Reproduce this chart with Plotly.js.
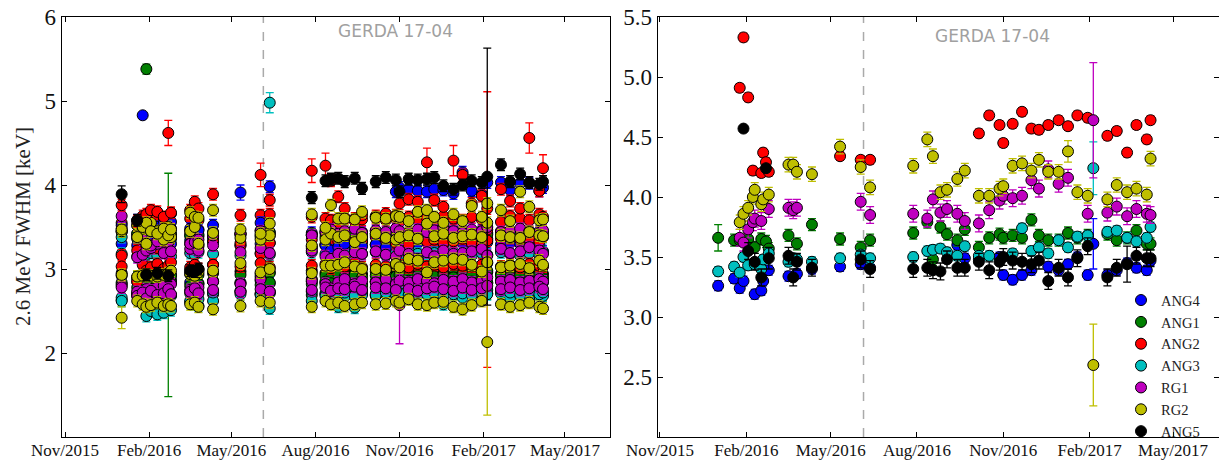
<!DOCTYPE html>
<html><head><meta charset="utf-8">
<script src="https://cdn.plot.ly/plotly-3.0.1.min.js"></script>
<style>html,body{margin:0;padding:0;background:#fff}#chart{width:1219px;height:461px}</style>
</head><body><div id="chart"></div>
<script>
// ---------- shared axis ticks ----------
const XTICK_DATES = ['2015-11-01','2016-02-01','2016-05-01','2016-08-01','2016-11-01','2017-02-01','2017-05-01'];
const XTICK_LABELS = ['Nov/2015','Feb/2016','May/2016','Aug/2016','Nov/2016','Feb/2017','May/2017'];
const LEFT_YTICKS = [2,3,4,5,6];
const RIGHT_YTICKS = [2.5,3.0,3.5,4.0,4.5,5.0,5.5];
const CUT_DATE = '2016-06-05';

// ---------- left panel: all detectors (calibration dates) ----------
const DATES = ['2016-01-02','2016-01-19','2016-01-25','2016-01-29','2016-02-03','2016-02-10','2016-02-17','2016-02-22','2016-02-25',
 '2016-03-17','2016-03-22','2016-03-26','2016-04-11','2016-05-11','2016-06-02','2016-06-12','2016-07-28','2016-08-12','2016-08-18',
 '2016-08-26','2016-09-02','2016-09-13','2016-09-21','2016-10-06','2016-10-17','2016-10-28','2016-11-01','2016-11-11','2016-11-21',
 '2016-12-01','2016-12-09','2016-12-19','2016-12-30','2017-01-09','2017-01-19','2017-01-30','2017-02-05','2017-02-20','2017-03-02',
 '2017-03-13','2017-03-23','2017-04-03','2017-04-07'];

const B1 = [3.52,3.58,4.83,3.55,3.38,3.50,3.54,3.57,3.56,3.48, 3.50,3.46,3.52,3.91,3.55,3.98,3.25,3.28,3.22,3.26, 3.30,3.24,3.27,3.29,3.25,3.92,3.97,3.95,3.93,3.92, 3.95,3.94,3.90,4.15,3.93,3.89,4.03,4.03,3.94,4.02, 4.02,3.93,3.97];
const G1 = [2.92,2.90,2.94,5.38,2.91,2.93,2.89,2.95,2.92,2.94, 2.91,2.93,2.85,2.93,2.91,2.95,2.88,2.92,2.90,2.94, 2.91,2.93,2.90,2.92,2.94,2.91,2.93,2.90,2.92,2.94, 2.91,2.93,2.90,2.94,2.92,2.95,2.98,2.92,2.90,2.93, 2.91,2.94,2.90];
const R1 = [3.76,3.57,3.63,3.65,3.70,3.68,3.62,4.62,3.67,3.70, 3.80,3.72,3.89,3.64,4.12,3.82,4.17,4.23,4.05,3.86, 3.72,3.60,3.64,3.62,3.66,3.64,3.78,3.83,3.80,4.27, 3.82,3.74,4.29,4.12,3.78,3.87,3.72,3.95,3.81,3.72, 4.56,3.93,4.20];
const C1 = [2.66,2.68,2.60,2.44,2.50,2.46,2.48,2.65,2.51,2.60, 2.58,2.56,2.62,2.70,2.71,2.53,2.62,2.70,2.66,2.55, 2.67,2.54,2.69,2.70,2.76,2.70,2.66,2.74,2.69,2.75, 2.64,2.58,2.70,2.66,2.70,2.82,2.75,2.71,2.66,2.68, 2.63,2.76,2.68];
const M1 = [3.48,3.14,3.17,3.22,3.25,3.30,3.19,3.32,3.21,3.24, 3.28,3.22,3.28,3.20,3.25,3.19,3.22,3.15,3.12,3.18, 3.16,3.20,3.18,3.21,3.17,3.15,3.22,3.18,3.12,3.20, 3.15,3.22,3.18,3.19,3.21,3.24,3.16,3.24,3.19,3.21, 3.26,3.22,3.18];
const Y1 = [3.47,3.38,3.50,3.55,3.45,3.42,3.48,3.40,3.47,3.67, 3.62,3.61,3.70,3.47,3.42,3.54,3.65,3.49,3.76,3.60, 3.60,3.59,3.68,3.61,3.60,3.63,3.62,3.57,3.68,3.70, 3.62,3.55,3.65,3.57,3.75,3.62,3.78,3.70,3.57,3.92, 3.74,3.58,3.59];
const K1 = [3.89,3.58,null,2.93,null,2.95,null,2.92,null,2.98, 2.97,3.00,null,null,null,null,3.85,4.05,4.07,4.08, 4.04,4.08,3.96,4.04,4.09,4.06,3.92,4.07,4.06,4.07, 4.09,3.99,3.95,4.00,4.05,4.03,4.10,4.24,4.04,4.13, 4.03,4.01,4.04];
const B2 = [3.30,3.28,3.33,3.25,3.31,3.29,3.27,3.32,3.30,3.34, 3.31,3.29,3.33,3.28,3.30,3.31,3.27,3.29,3.32,3.30, 3.28,3.31,3.33,3.29,3.30,3.32,3.28,3.26,3.31,3.18, 3.30,3.29,3.33,3.31,3.28,3.30,3.32,3.29,3.31,3.30, 3.27,3.29,3.21];
const G2 = [2.84,2.78,2.80,2.82,2.76,2.79,2.82,2.81,2.84,2.80, 2.78,2.82,2.86,2.83,2.81,2.84,2.82,2.85,2.83,2.80, 2.84,2.82,2.80,2.85,2.83,2.81,2.84,2.86,2.83,2.85, 2.82,2.84,2.86,2.83,2.85,2.82,2.84,2.86,2.83,2.85, 2.87,2.84,2.88];
const R2 = [3.55,3.52,3.60,3.58,3.55,3.62,3.57,3.53,3.66,3.60, 3.62,3.58,3.05,3.31,3.64,3.65,3.62,3.60,3.58,3.55, 3.61,3.57,3.59,3.63,3.58,3.60,3.56,3.62,3.59,3.61, 3.57,3.63,3.60,3.58,3.62,3.59,3.47,3.56,3.63,3.60, 3.58,3.65,3.62];
const C2 = [2.62,2.72,2.66,2.58,2.70,2.74,2.62,2.70,2.68,2.62, 2.73,2.64,2.72,2.74,2.69,2.71,2.73,2.68,2.74,2.70, 2.72,2.68,2.74,2.69,2.72,2.74,2.71,2.69,2.73,2.70, 2.72,2.68,2.74,2.71,2.69,2.72,2.70,2.74,2.72,2.69, 2.73,2.70,2.72];
const M2 = [2.80,2.73,2.70,2.76,2.70,2.78,2.80,2.68,2.82,2.75, 2.72,2.78,2.85,2.82,2.88,2.73,2.86,2.82,2.77,2.84, 2.88,2.82,2.86,2.84,2.88,2.82,2.86,2.84,2.88,2.86, 2.83,2.87,2.85,2.88,2.84,2.86,2.90,2.85,2.87,2.84, 2.86,2.88,2.85];
const Y2 = [2.93,2.91,2.92,2.93,2.92,2.91,2.93,2.95,2.98,2.94, 2.92,2.96,2.98,3.07,2.96,3.00,2.95,3.04,3.04,3.05, 3.08,3.03,3.00,3.00,2.99,3.06,3.02,3.12,3.10,2.96, 3.08,3.10,3.12,3.11,3.05,2.97,3.08,3.02,3.04,3.06, 3.01,3.10,3.05];
const K2 = [2.95,2.90,2.93,2.97,2.94,2.96,2.98,2.95,2.93,2.98, 2.96,2.99,2.95,2.97,2.94,2.96,2.98,2.95,2.97,2.93, 2.96,2.98,2.94,2.97,2.95,2.99,2.96,2.94,2.97,2.95, 2.98,2.96,2.93,2.97,2.95,2.98,2.96,2.94,2.97,2.95, 2.98,2.96,2.94];
const B3 = [3.44,3.42,3.47,3.45,3.40,3.43,3.46,3.44,3.41,3.45, 3.43,3.47,3.44,3.42,3.46,3.44,3.43,3.45,3.47,3.44, 3.42,3.46,3.44,3.45,3.43,3.47,3.44,3.42,3.45,3.46, 3.44,3.43,3.47,3.45,3.44,3.46,3.43,3.45,3.44,3.46, 3.43,3.45,3.44];
const G3 = [2.63,2.70,2.66,2.72,2.68,2.60,2.70,2.74,2.69,2.71, 2.68,2.72,2.70,2.73,2.70,2.72,2.69,2.71,2.68,2.70, 2.72,2.69,2.71,2.68,2.70,2.72,2.69,2.71,2.73,2.70, 2.72,2.69,2.71,2.70,2.72,2.69,2.71,2.73,2.70,2.72, 2.69,2.71,2.70];
const R3 = [3.16,3.22,3.35,3.28,3.31,3.25,3.36,3.30,3.38,3.30, 3.33,3.27,3.32,3.28,3.18,3.31,3.35,3.29,3.31,3.33, 3.36,3.30,3.32,3.38,3.34,3.31,3.36,3.29,3.37,3.33, 3.35,3.31,3.33,3.36,3.31,3.29,3.34,3.36,3.37,3.35, 3.36,3.33,3.40];
const C3 = [3.18,3.15,3.20,3.17,3.19,3.16,3.21,3.18,3.15,3.19, 3.17,3.20,3.18,3.16,3.19,3.17,3.20,3.18,3.16,3.19, 3.21,3.17,3.18,3.20,3.16,3.19,3.17,3.21,3.18,3.16, 3.19,3.17,3.20,3.18,3.16,3.19,3.17,3.20,3.18,3.16, 3.19,3.17,3.20];
const M3 = [3.63,3.38,3.35,3.30,3.28,3.33,3.38,3.45,3.48,3.30, 3.32,3.35,3.40,3.42,3.45,3.40,3.40,3.44,3.47,3.42, 3.45,3.48,3.43,3.46,3.44,3.48,3.45,3.43,3.47,3.44, 3.46,3.49,3.45,3.43,3.47,3.45,3.50,3.44,3.46,3.48, 3.45,3.43,3.46];
const Y3 = [2.42,2.62,2.58,2.55,2.57,2.60,2.56,2.58,2.56,2.58, 2.60,2.55,2.52,2.56,2.62,2.60,2.55,2.62,2.58,2.60, 2.56,2.58,2.60,2.58,2.59,2.62,2.60,2.64,2.58,2.57, 2.60,2.61,2.55,2.52,2.57,2.62,2.13,2.58,2.55,2.57, 2.60,2.55,2.53];
const B4 = [2.82,2.85,2.83,2.86,2.84,2.82,2.85,2.83,2.87,2.84, 2.86,2.83,2.85,2.84,2.86,2.83,2.85,2.84,2.86,2.83, 2.85,2.84,2.82,2.85,2.83,2.86,2.84,2.85,2.83,2.86, 2.84,2.85,2.83,2.86,2.84,2.85,2.83,2.86,2.84,2.85, 2.83,2.86,2.84];
const G4 = [3.45,3.42,3.40,3.44,3.38,3.41,3.43,3.39,3.42,3.40, 3.44,3.41,3.39,3.42,3.40,3.43,3.41,3.38,3.42,3.40, 3.43,3.41,3.39,3.42,3.40,3.44,3.41,3.39,3.42,3.40, 3.43,3.41,3.39,3.42,3.40,3.43,3.41,3.39,3.42,3.40, 3.43,3.41,3.39];
const R4 = [3.03,2.85,3.05,2.98,3.02,3.06,3.00,3.04,3.08,3.02, 3.05,3.00,3.05,3.03,3.07,3.02,3.04,3.06,3.01,3.05, 3.03,3.07,3.02,3.05,3.03,3.06,3.04,3.02,3.06,3.03, 3.05,3.02,3.06,3.04,3.03,3.05,3.07,3.03,3.05,3.02, 3.06,3.04,3.03];
const C4 = [3.38,3.36,3.40,3.42,3.39,3.37,3.41,3.38,3.36,3.40, 3.42,3.39,3.37,3.41,3.38,4.98,3.40,3.42,3.39,3.37, 3.41,3.38,3.36,3.40,3.42,3.39,3.37,3.41,3.38,3.36, 3.40,3.42,3.39,3.37,3.41,3.38,3.36,3.40,3.42,3.39, 3.37,3.41,3.38];
const M4 = [2.78,2.68,2.72,2.65,2.74,2.69,2.71,2.76,2.70,2.73, 2.77,2.71,2.75,2.73,2.76,2.73,2.75,2.78,2.74,2.77, 2.76,2.79,2.75,2.78,2.77,2.75,2.57,2.76,2.74,2.77, 2.79,2.76,2.74,2.78,2.75,2.77,2.80,2.76,2.78,2.75, 2.77,2.79,2.76];
const Y4 = [3.45,3.52,3.48,3.30,3.55,3.45,3.35,3.50,3.38,3.45, 3.50,3.30,3.43,3.37,3.35,3.40,3.28,3.35,3.42,3.38, 3.40,3.32,3.38,3.42,3.37,3.35,3.38,3.40,3.36,3.54, 3.39,3.42,3.37,3.39,3.41,3.38,3.55,3.40,3.38,3.37, 3.44,3.40,3.39];

// drawing order (first = bottom)
const LEFT_ORDER = [['K2',K2],['B2',B2],['B3',B3],['B4',B4],['C3',C3],['C4',C4],['G4',G4],
                    ['G1',G1],['G2',G2],['G3',G3],['C1',C1],['C2',C2],['R3',R3],['R4',R4],['M2',M2],['M4',M4],
                    ['R2',R2],['B1',B1],['M1',M1],['M3',M3],['Y2',Y2],['Y3',Y3],['Y4',Y4],['R1',R1],['Y1',Y1],['K1',K1]];
const LEFT_ERR_TYPICAL = 0.07;
const LEFT_ERR_SPECIAL = [['G2',7,1.33],['R1',7,0.15],['R1',14,0.14],['R1',16,0.14],['R1',17,0.15],['R1',29,0.17],
  ['R1',32,0.18],['R1',40,0.18],['R1',42,0.16],['C4',15,0.12],['M4',26,0.46],['K1',36,1.53],['R2',36,1.64],
  ['Y3',36,0.87],['Y3',0,0.13],['K1',0,0.10],['B1',13,0.09],['B1',2,0.03],['G1',3,0.06]];

// ---------- right panel: selected detectors ----------
const ANG4_DATES = ['2016-01-02','2016-01-19','2016-01-25','2016-01-29','2016-02-10','2016-02-17','2016-02-19','2016-02-25','2016-03-17','2016-03-26','2016-04-11','2016-05-11','2016-06-02','2016-06-12','2016-09-13','2016-09-21','2016-10-06','2016-10-28','2016-11-01','2016-11-11','2016-11-21','2016-12-01','2016-12-19','2016-12-30','2017-01-09','2017-01-19','2017-01-30','2017-02-05','2017-02-20','2017-03-02','2017-03-13','2017-03-23','2017-04-03','2017-04-07'];
const ANG4 = [3.26,3.32,3.24,3.30,3.19,3.22,3.30,3.39,3.34,3.36,3.40,3.42,3.44,3.41,3.60,3.49,3.48,3.50,3.35,3.31,3.35,3.39,3.42,3.39,3.44,3.50,3.35,3.61,3.35,3.39,3.45,3.41,3.39,3.47];
const ANG1_DATES = ['2016-01-02','2016-01-19','2016-01-25','2016-02-03','2016-02-10','2016-02-17','2016-02-22','2016-02-25','2016-03-17','2016-03-26','2016-04-11','2016-05-11','2016-06-02','2016-06-12','2016-07-28','2016-08-12','2016-08-18','2016-08-26','2016-09-02','2016-09-13','2016-09-21','2016-10-06','2016-10-17','2016-10-28','2016-11-01','2016-11-11','2016-11-21','2016-12-01','2016-12-09','2016-12-19','2016-12-30','2017-01-09','2017-01-19','2017-01-30','2017-02-20','2017-03-02','2017-03-13','2017-03-23','2017-04-03','2017-04-07'];
const ANG1 = [3.66,3.64,3.64,3.65,3.58,3.65,3.63,3.57,3.68,3.61,3.77,3.65,3.58,3.64,3.70,3.79,3.48,3.75,3.69,3.64,3.73,3.58,3.66,3.69,3.66,3.68,3.66,3.81,3.68,3.64,3.64,3.70,3.66,3.68,3.69,3.64,3.66,3.72,3.61,3.61];
const ANG2_DATES = ['2016-01-25','2016-01-29','2016-02-03','2016-02-08','2016-02-17','2016-02-19','2016-02-22','2016-02-25','2016-05-11','2016-06-02','2016-06-12','2016-10-06','2016-10-17','2016-10-28','2016-11-01','2016-11-11','2016-11-21','2016-12-01','2016-12-09','2016-12-19','2016-12-30','2017-01-09','2017-01-19','2017-01-30','2017-02-20','2017-03-02','2017-03-13','2017-03-23','2017-04-03','2017-04-07'];
const ANG2 = [4.91,5.33,4.83,4.22,4.20,4.37,4.29,4.21,4.34,4.31,4.31,4.53,4.68,4.60,4.45,4.61,4.71,4.57,4.56,4.60,4.64,4.59,4.68,4.66,4.51,4.55,4.37,4.60,4.48,4.64];
const ANG3_DATES = ['2016-01-02','2016-01-19','2016-01-25','2016-01-29','2016-02-03','2016-02-10','2016-02-17','2016-02-19','2016-02-25','2016-03-17','2016-03-22','2016-03-26','2016-04-11','2016-05-11','2016-06-02','2016-06-12','2016-07-28','2016-08-12','2016-08-18','2016-08-26','2016-09-02','2016-09-13','2016-09-21','2016-10-06','2016-10-17','2016-11-11','2016-11-21','2016-12-01','2016-12-09','2016-12-19','2016-12-30','2017-01-09','2017-01-19','2017-01-30','2017-02-05','2017-02-20','2017-03-02','2017-03-13','2017-03-23','2017-04-03','2017-04-07'];
const ANG3 = [3.38,3.42,3.37,3.50,3.43,3.44,3.40,3.48,3.53,3.46,3.49,3.48,3.46,3.49,3.52,3.49,3.50,3.55,3.56,3.57,3.54,3.51,3.59,3.51,3.51,3.53,3.74,3.55,3.58,3.53,3.64,3.58,3.67,3.68,4.24,3.71,3.72,3.66,3.63,3.66,3.75];
const RG1_DATES = ['2016-01-25','2016-01-29','2016-02-03','2016-02-08','2016-02-10','2016-02-17','2016-02-25','2016-03-17','2016-03-22','2016-03-26','2016-06-02','2016-06-12','2016-07-28','2016-08-12','2016-08-18','2016-08-26','2016-09-02','2016-09-13','2016-09-21','2016-10-06','2016-10-17','2016-10-28','2016-11-01','2016-11-11','2016-11-21','2016-12-01','2016-12-09','2016-12-19','2016-12-30','2017-01-09','2017-01-30','2017-02-05','2017-02-20','2017-03-02','2017-03-13','2017-03-23','2017-04-03','2017-04-07'];
const RG1 = [3.66,3.62,3.73,3.79,3.82,3.80,3.90,3.91,3.89,3.91,3.96,3.85,3.86,3.82,3.98,3.87,3.90,3.86,3.80,3.78,3.89,3.97,4.01,3.99,4.01,4.14,4.07,4.23,4.11,4.16,3.86,4.64,3.87,3.92,3.84,3.90,3.86,3.85];
const RG2_DATES = ['2016-01-25','2016-01-29','2016-02-03','2016-02-08','2016-02-10','2016-02-17','2016-02-19','2016-02-25','2016-03-17','2016-03-22','2016-03-26','2016-04-11','2016-05-11','2016-06-02','2016-06-12','2016-07-28','2016-08-12','2016-08-18','2016-08-26','2016-09-02','2016-09-13','2016-09-21','2016-10-06','2016-10-17','2016-10-28','2016-11-01','2016-11-11','2016-11-21','2016-12-01','2016-12-09','2016-12-19','2016-12-30','2017-01-09','2017-01-19','2017-01-30','2017-02-05','2017-02-20','2017-03-02','2017-03-13','2017-03-23','2017-04-03','2017-04-07'];
const RG2 = [3.79,3.86,3.91,4.00,4.06,3.94,3.98,4.02,4.27,4.27,4.21,4.19,4.42,4.25,4.08,4.26,4.48,4.34,4.04,4.06,4.15,4.22,4.01,4.01,4.07,4.09,4.26,4.28,4.22,4.31,4.21,4.21,4.38,4.04,4.01,2.60,3.98,4.10,4.04,4.07,4.02,4.32];
const ANG5_DATES = ['2016-01-29','2016-02-03','2016-02-10','2016-02-17','2016-02-22','2016-02-25','2016-03-17','2016-03-22','2016-03-26','2016-04-11','2016-06-02','2016-06-12','2016-07-28','2016-08-12','2016-08-18','2016-08-26','2016-09-02','2016-09-13','2016-09-21','2016-10-06','2016-10-17','2016-10-28','2016-11-01','2016-11-11','2016-11-21','2016-12-01','2016-12-09','2016-12-19','2016-12-30','2017-01-09','2017-01-19','2017-01-30','2017-02-20','2017-03-02','2017-03-13','2017-03-23','2017-04-03','2017-04-07'];
const ANG5 = [4.57,3.55,3.46,3.33,4.24,3.49,3.51,3.33,3.46,3.41,3.48,3.40,3.40,3.41,3.39,3.38,3.48,3.41,3.41,3.46,3.39,3.46,3.50,3.47,3.46,3.44,3.47,3.30,3.41,3.33,3.49,3.59,3.33,3.41,3.44,3.51,3.49,3.49];

const RIGHT_SERIES = [['ANG4',ANG4_DATES,ANG4,0.04],['ANG1',ANG1_DATES,ANG1,0.05],['ANG2',ANG2_DATES,ANG2,0.035],
  ['ANG3',ANG3_DATES,ANG3,0.04],['RG1',RG1_DATES,RG1,0.07],['RG2',RG2_DATES,RG2,0.06],['ANG5',ANG5_DATES,ANG5,0.07]];
const RIGHT_ERR_SPECIAL = [['ANG1','2016-01-02',0.11],['ANG4','2017-02-05',0.21],['ANG3','2017-02-05',0.22],
  ['RG1','2017-02-05',0.48],['RG2','2017-02-05',0.34],['ANG5','2017-03-13',0.15],['ANG5','2016-02-25',0.09],
  ['RG2','2017-01-09',0.09],['ANG5','2016-01-29',0.02],['ANG5','2016-02-22',0.03]];

// ---------- styles ----------
const COLORS = {B:'#0000ff',G:'#008000',R:'#ff0000',C:'#00bfbf',M:'#bf00bf',Y:'#bfbf00',K:'#000000'};
const RIGHT_COLORS = {ANG4:'#0000ff',ANG1:'#008000',ANG2:'#ff0000',ANG3:'#00bfbf',RG1:'#bf00bf',RG2:'#bfbf00',ANG5:'#000000'};

function mk(x, y, err, color, xa, ya, name, legend){
  return {type:'scatter', mode:'markers', x:x, y:y, name:name, showlegend:legend, xaxis:xa, yaxis:ya,
    marker:{size:11, color:color, line:{color:'#000', width:1}},
    error_y:{type:'data', array:err, visible:true, color:color, thickness:1.3, width:4}};
}

const traces = [];
LEFT_ORDER.forEach(([nm, vals]) => {
  const err = vals.map(() => LEFT_ERR_TYPICAL);
  LEFT_ERR_SPECIAL.filter(s => s[0] === nm).forEach(s => { err[s[1]] = s[2]; });
  traces.push(mk(DATES, vals, err, COLORS[nm[0]], 'x', 'y', nm, false));
});
RIGHT_SERIES.forEach(([nm, ds, vals, e0]) => {
  const err = vals.map(() => e0);
  RIGHT_ERR_SPECIAL.filter(s => s[0] === nm).forEach(s => { const i = ds.indexOf(s[1]); if (i >= 0) err[i] = s[2]; });
  traces.push(mk(ds, vals, err, RIGHT_COLORS[nm], 'x2', 'y2', nm, true));
});

const serif = 'Liberation Serif, Times New Roman, serif';
const axBase = {showline:true, linecolor:'#000', linewidth:1.3, mirror:'ticks', ticks:'inside', ticklen:5,
  tickwidth:1, tickcolor:'#000', showgrid:false, zeroline:false};
const xBase = Object.assign({}, axBase, {type:'date', tickmode:'array', tickvals:XTICK_DATES, ticktext:XTICK_LABELS,
  ticklabelstandoff:-3, tickfont:{family:serif, size:17, color:'#111'}});

const layout = {
  width:1219, height:461, margin:{l:62, r:0, t:17, b:24, autoexpand:false}, paper_bgcolor:'#fff', plot_bgcolor:'#fff',
  xaxis: Object.assign({}, xBase, {domain:[0,0.47364], range:['2015-10-28 17:00','2017-06-19 07:00'], anchor:'y'}),
  yaxis: Object.assign({}, axBase, {range:[1,6], tickmode:'array', tickvals:LEFT_YTICKS, ticktext:LEFT_YTICKS.map(String),
    tickfont:{family:serif, size:23, color:'#111'}, anchor:'x'}),
  xaxis2: Object.assign({}, xBase, {domain:[0.51513,1], range:['2015-10-29 21:00','2017-06-19'], anchor:'y2'}),
  yaxis2: Object.assign({}, axBase, {range:[2,5.5], tickmode:'array', tickvals:RIGHT_YTICKS, ticktext:RIGHT_YTICKS.map(v=>v.toFixed(1)),
    tickfont:{family:serif, size:23, color:'#111'}, anchor:'x2'}),
  showlegend:true,
  legend:{x:0.9153, y:0.364, xanchor:'left', yanchor:'top', bgcolor:'rgba(0,0,0,0)', borderwidth:0,
    font:{family:serif, size:14.5, color:'#222'}, itemwidth:30, tracegroupgap:0},
  shapes:[
    {type:'line', xref:'x', yref:'y', x0:CUT_DATE, x1:CUT_DATE, y0:1, y1:6, line:{color:'#aaaaaa', width:1.5, dash:'dash'}, layer:'below'},
    {type:'line', xref:'x2', yref:'y2', x0:CUT_DATE, x1:CUT_DATE, y0:2, y1:5.5, line:{color:'#aaaaaa', width:1.5, dash:'dash'}, layer:'below'}
  ],
  annotations:[
    {text:'2.6 MeV FWHM [keV]', xref:'paper', yref:'paper', x:-0.0337, y:0.5, textangle:-90, showarrow:false,
      xanchor:'center', yanchor:'middle', font:{family:serif, size:21, color:'#222'}},
    {text:'GERDA 17-04', xref:'x', yref:'y', x:'2016-10-28', y:5.83, showarrow:false, font:{family:'DejaVu Sans', size:17, color:'#a0a0a0'}},
    {text:'GERDA 17-04', xref:'x2', yref:'y2', x:'2016-10-21', y:5.345, showarrow:false, font:{family:'DejaVu Sans', size:17, color:'#a0a0a0'}}
  ]
};

Plotly.newPlot('chart', traces, layout, {displayModeBar:false, staticPlot:true});
</script></body></html>
